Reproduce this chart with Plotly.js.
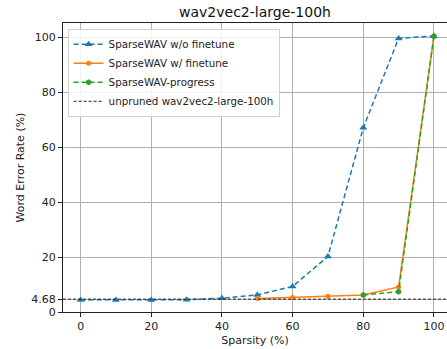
<!DOCTYPE html>
<html><head><meta charset="utf-8">
<script src="https://cdn.plot.ly/plotly-3.0.1.min.js"></script>
<style>html,body{margin:0;padding:0;background:#fff}</style>
</head><body>
<div id="chart" style="width:447px;height:349px"></div>
<script>
const sparsityAll = [0,10,20,30,40,50,60,70,80,90,100];
const woFinetune = [4.4,4.4,4.4,4.5,5.0,6.2,9.3,20.2,67,99.5,100.4];
const sparsityFt = [50,60,70,80,90,100];
const wFinetune = [4.9,5.3,5.7,6.2,9.1,100.3];
const sparsityProg = [80,90,100];
const progress = [6.2,7.4,100.3];
const baselineWER = 4.68;
const xRange = [-5, 103.7];
const yTicks = [0, 4.68, 20, 40, 60, 80, 100];
const yTickText = ['0','4.68','20','40','60','80','100'];

const font = {family: 'DejaVu Sans, sans-serif', size: 11, color: '#222'};
const legFont = {family: 'DejaVu Sans, sans-serif', size: 10.3, color: '#222'};
const traces = [
  {x: sparsityAll, y: woFinetune, name: 'SparseWAV w/o finetune', mode: 'lines+markers',
   line: {color: '#1f77b4', width: 1.5, dash: '5px,3px'},
   marker: {symbol: 'triangle-up', size: 7, color: '#1f77b4'}},
  {x: sparsityFt, y: wFinetune, name: 'SparseWAV w/ finetune', mode: 'lines+markers',
   line: {color: '#ff7f0e', width: 1.5},
   marker: {symbol: 'circle', size: 5, color: '#ff7f0e'}},
  {x: sparsityProg, y: progress, name: 'SparseWAV-progress', mode: 'lines+markers',
   line: {color: '#2ca02c', width: 1.5, dash: '5px,3px'},
   marker: {symbol: 'hexagon', size: 6, color: '#2ca02c'}},
  {x: xRange, y: [baselineWER, baselineWER], name: 'unpruned wav2vec2-large-100h', mode: 'lines',
   line: {color: '#222', width: 1, dash: '3px,2px'}}
];
const layout = {
  width: 447, height: 349,
  margin: {l: 63, r: 0, t: 23, b: 37},
  paper_bgcolor: '#fff', plot_bgcolor: '#fff',
  font: font,
  title: {text: 'wav2vec2-large-100h', font: {family: 'DejaVu Sans, sans-serif', size: 14, color: '#111'},
          x: 0.5, xanchor: 'center', y: 0.965, yanchor: 'middle', xref: 'paper'},
  xaxis: {range: xRange, tickvals: [0,20,40,60,80,100], showgrid: true, gridcolor: '#b0b0b0', gridwidth: 1,
          showline: true, linecolor: '#222', linewidth: 1, mirror: true, ticks: 'outside', ticklen: 4,
          tickcolor: '#222', zeroline: false,
          title: {text: 'Sparsity (%)', font: font, standoff: 4}},
  yaxis: {range: [0, 105.1], tickvals: yTicks, ticktext: yTickText, showgrid: true, gridcolor: '#b0b0b0', gridwidth: 1,
          showline: true, linecolor: '#222', linewidth: 1, mirror: true, ticks: 'outside', ticklen: 4,
          tickcolor: '#222', zeroline: false,
          title: {text: 'Word Error Rate (%)', font: font, standoff: 4}},
  legend: {x: 0.012, y: 0.98, xanchor: 'left', yanchor: 'top', bgcolor: 'rgba(255,255,255,0.85)',
           bordercolor: '#d0d0d0', borderwidth: 1, font: legFont, tracegroupgap: 0, itemwidth: 30},
  showlegend: true
};
Plotly.newPlot('chart', traces, layout, {displayModeBar: false, staticPlot: true});
</script>
</body></html>
